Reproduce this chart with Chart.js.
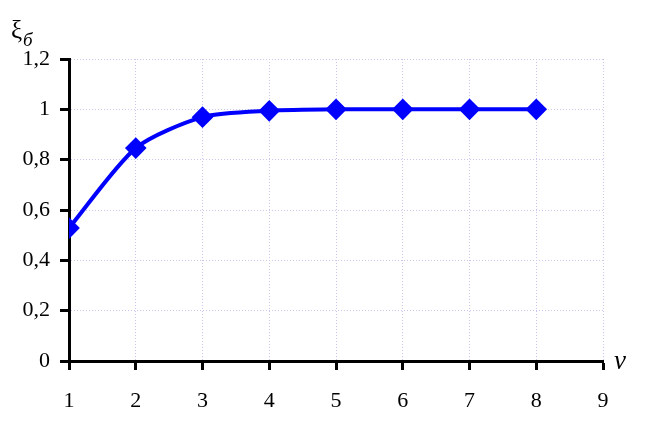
<!DOCTYPE html>
<html>
<head>
<meta charset="utf-8">
<script src="https://cdn.jsdelivr.net/npm/chart.js@4"></script>
<style>
  html, body { margin: 0; padding: 0; background: #fff; }
  #wrap { width: 661px; height: 424px; position: relative; }
</style>
</head>
<body>
<div id="wrap"><canvas id="chart"></canvas></div>
<script>
// data
const vValues = [1, 2, 3, 4, 5, 6, 7, 8];
const xiValues = [0.528, 0.846, 0.969, 0.994, 1.0, 1.0, 1.0, 1.0];
const xTicks = [1, 2, 3, 4, 5, 6, 7, 8, 9];
const yTicks = [0, 0.2, 0.4, 0.6, 0.8, 1, 1.2];

const FONT = 'Liberation Serif';

// axis captions: ξб top left, v bottom right
const captions = {
    id: 'captions',
    afterDraw(chart) {
        const ctx = chart.ctx, a = chart.chartArea;
        ctx.save();
        ctx.fillStyle = '#000';
        ctx.textBaseline = 'alphabetic';
        ctx.font = '25px ' + FONT;
        ctx.fillText('ξ', 11, a.top - 21);
        ctx.font = 'italic 19px ' + FONT;
        ctx.fillText('б', 23, a.top - 13);
        ctx.font = 'italic 27px ' + FONT;
        ctx.fillText('v', a.right + 11, a.bottom + 8);
        ctx.restore();
    }
};

new Chart(document.getElementById('chart'), {
    type: 'line',
    data: {
        datasets: [{
            data: vValues.map((v, i) => ({x: v, y: xiValues[i]})),
            borderColor: '#0000ff',
            backgroundColor: '#0000ff',
            borderWidth: 4,
            pointStyle: 'rectRot',
            pointRadius: 8,
            pointHoverRadius: 8,
            tension: 0.25,
            fill: false
        }]
    },
    options: {
        responsive: true,
        maintainAspectRatio: false,
        animation: false,
        layout: { padding: { left: 0, right: 58, top: 59, bottom: 0 } },
        plugins: { legend: { display: false }, tooltip: { enabled: false } },
        scales: {
            x: {
                type: 'linear',
                min: 1, max: 9,
                afterBuildTicks: s => { s.ticks = xTicks.map(v => ({value: v})); },
                afterFit: s => { s.height = 63; },
                ticks: { color: '#000', font: { family: FONT, size: 22 }, padding: 18, maxRotation: 0 },
                grid: { color: '#c8c8ee', lineWidth: 1, tickColor: '#000', tickWidth: 3, tickLength: 9 },
                border: { color: '#000', width: 3, dash: [1, 2] }
            },
            y: {
                min: 0, max: 1.2,
                afterBuildTicks: s => { s.ticks = yTicks.map(v => ({value: v})); },
                afterFit: s => { s.width = 69; },
                ticks: {
                    color: '#000', font: { family: FONT, size: 22 }, padding: 10,
                    callback: v => String(Math.round(v * 10) / 10).replace('.', ',')
                },
                grid: { color: '#c8c8ee', lineWidth: 1, tickColor: '#000', tickWidth: 3, tickLength: 9 },
                border: { color: '#000', width: 3, dash: [1, 2] }
            }
        }
    },
    plugins: [captions]
});
</script>
</body>
</html>
